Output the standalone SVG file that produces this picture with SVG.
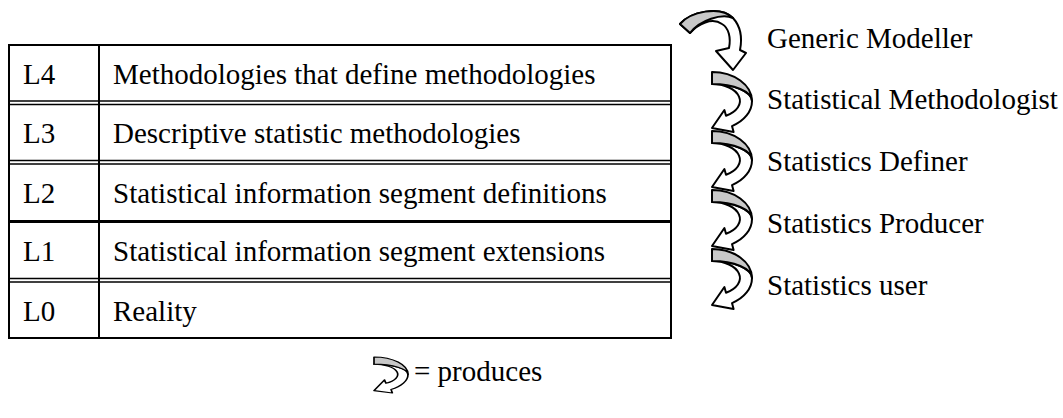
<svg xmlns="http://www.w3.org/2000/svg" width="1063" height="418" viewBox="0 0 1063 418">
<defs>
<style>
.t{font-family:"Liberation Serif","Times New Roman",serif;font-size:29px;fill:#000}
.ln{stroke:#000;fill:none}
.g{fill:#c8c8c8;stroke:#000;stroke-width:2;stroke-linejoin:round}
.w{fill:#fff;stroke:#000;stroke-width:2;stroke-linejoin:round}
</style>
<g id="carrow">
<path class="w" d="M0,12 A40,17 0 0 1 40,29 A40,29 0 0 1 20,54.1 L21.6,60 L0,56 L12.4,38 L14,43.7 A28,17 0 0 0 0,12 Z"/>
<path class="g" d="M0,0 A40,29 0 0 1 40,29 A40,17 0 0 0 0,12 Z"/>
</g>
</defs>
<rect width="1063" height="418" fill="#fff"/>
<g id="table">
<rect class="ln" x="9" y="45" width="662" height="293" stroke-width="2"/>
<line class="ln" x1="99" y1="45" x2="99" y2="338" stroke-width="2"/>
<line class="ln" x1="9" y1="101" x2="671" y2="101" stroke-width="1.5"/>
<line class="ln" x1="9" y1="104.5" x2="671" y2="104.5" stroke-width="1.5"/>
<line class="ln" x1="9" y1="160.5" x2="671" y2="160.5" stroke-width="1.5"/>
<line class="ln" x1="9" y1="164" x2="671" y2="164" stroke-width="1.5"/>
<line class="ln" x1="9" y1="221.5" x2="671" y2="221.5" stroke-width="3"/>
<line class="ln" x1="9" y1="278.5" x2="671" y2="278.5" stroke-width="1.5"/>
<line class="ln" x1="9" y1="282" x2="671" y2="282" stroke-width="1.5"/>
</g>
<g id="L4"><text class="t" x="23" y="84">L4</text><text class="t" x="113" y="84">Methodologies that define methodologies</text></g>
<g id="L3"><text class="t" x="23" y="143">L3</text><text class="t" x="113" y="143">Descriptive statistic methodologies</text></g>
<g id="L2"><text class="t" x="23" y="203">L2</text><text class="t" x="113" y="203">Statistical information segment definitions</text></g>
<g id="L1"><text class="t" x="23" y="261">L1</text><text class="t" x="113" y="261">Statistical information segment extensions</text></g>
<g id="L0"><text class="t" x="23" y="321">L0</text><text class="t" x="113" y="321">Reality</text></g>
<g id="roles">
<text class="t" x="767" y="48">Generic Modeller</text>
<text class="t" x="767" y="109">Statistical Methodologist</text>
<text class="t" x="767" y="171">Statistics Definer</text>
<text class="t" x="767" y="233">Statistics Producer</text>
<text class="t" x="767" y="295">Statistics user</text>
</g>
<g id="connectors">
<use href="#carrow" x="712" y="249"/>
<use href="#carrow" x="712" y="190"/>
<use href="#carrow" x="712" y="131"/>
<use href="#carrow" x="712" y="72"/>
<g id="toparrow">
<path class="w" d="M680,24 C690,12 720,5 733,18 C742,28 742,40 740,50 L746,53 L733,70 L716,51 L729,48 C731,38 729,28 722,24 C712,17 698,24 690,33 Z"/>
<path class="g" d="M680,24 C690,12 720,5 733,18 C722,13 700,20 690,33 Z"/>
</g>
</g>
<g id="legend">
<use href="#carrow" transform="translate(374,357) scale(0.85,0.6)"/>
<text class="t" x="414" y="381">= produces</text>
</g>
</svg>
